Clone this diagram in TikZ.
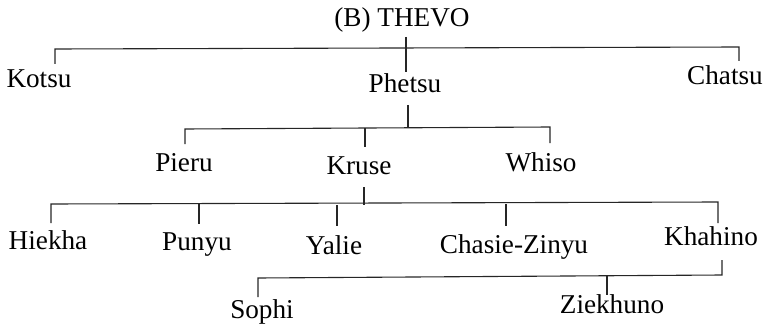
\documentclass[tikz,border=0pt]{standalone}
\usepackage{fontspec}
\setmainfont{Liberation Serif}
\begin{document}
\begin{tikzpicture}[x=1pt,y=-1pt,
  lbl/.style={anchor=base,inner sep=0pt,font=\fontsize{27.2}{30}\selectfont},
  conn/.style={draw=black!85,line width=1.1pt}]
\useasboundingbox (0,0) rectangle (770,326);
% nodes
\node[lbl] (thevo) at (402,27) {(B) THEVO};
\node[lbl] (kotsu) at (39,88) {Kotsu};
\node[lbl] (phetsu) at (405,93) {Phetsu};
\node[lbl] (chatsu) at (725,85) {Chatsu};
\node[lbl] (pieru) at (184,171) {Pieru};
\node[lbl] (kruse) at (359,174) {Kruse};
\node[lbl] (whiso) at (541,171) {Whiso};
\node[lbl] (hiekha) at (48,249) {Hiekha};
\node[lbl] (punyu) at (197,250) {Punyu};
\node[lbl] (yalie) at (334,254) {Yalie};
\node[lbl] (chasie) at (514,253) {Chasie-Zinyu};
\node[lbl] (khahino) at (711,245) {Khahino};
\node[lbl] (sophi) at (262,318) {Sophi};
\node[lbl] (ziekhuno) at (612,313) {Ziekhuno};
% bar 1
\coordinate (b1l) at (55,49);
\coordinate (b1r) at (739,47);
\coordinate (kotsuT) at (55,64);
\coordinate (chatsuT) at (739,61);
\coordinate (thevoB) at (406,37);
\coordinate (phetsuT) at (406,72);
\draw[conn] (kotsuT) -- (b1l) -- (b1r) -- (chatsuT);
\draw[conn] (thevoB) -- (phetsuT);
% bar 2
\coordinate (phetsuB) at (408,105);
\coordinate (b2m) at (408,128);
\coordinate (b2l) at (185,129);
\coordinate (b2r) at (550,127);
\coordinate (pieruT) at (185,144);
\coordinate (whisoT) at (550,143);
\coordinate (b2k) at (365,128);
\coordinate (kruseT) at (365,147);
\draw[conn] (phetsuB) -- (b2m);
\draw[conn] (pieruT) -- (b2l) -- (b2r) -- (whisoT);
\draw[conn] (b2k) -- (kruseT);
% bar 3
\coordinate (kruseB) at (364,187);
\coordinate (b3m) at (364,205);
\coordinate (b3l) at (51,204);
\coordinate (b3r) at (718,202);
\coordinate (hiekhaT) at (51,223);
\coordinate (khahinoT) at (718,223);
\coordinate (b3p) at (199,204);
\coordinate (punyuT) at (199,224);
\coordinate (b3y) at (337,205);
\coordinate (yalieT) at (337,226);
\coordinate (b3c) at (506,204);
\coordinate (chasieT) at (506,226);
\draw[conn] (kruseB) -- (b3m);
\draw[conn] (hiekhaT) -- (b3l) -- (b3r) -- (khahinoT);
\draw[conn] (b3p) -- (punyuT);
\draw[conn] (b3y) -- (yalieT);
\draw[conn] (b3c) -- (chasieT);
% bar 4
\coordinate (khahinoB) at (722,260);
\coordinate (b4r) at (722,275);
\coordinate (b4l) at (258,278);
\coordinate (sophiT) at (258,297);
\coordinate (b4z) at (607,276);
\coordinate (ziekhunoT) at (607,295);
\draw[conn] (khahinoB) -- (b4r) -- (b4l) -- (sophiT);
\draw[conn] (b4z) -- (ziekhunoT);
\end{tikzpicture}
\end{document}
